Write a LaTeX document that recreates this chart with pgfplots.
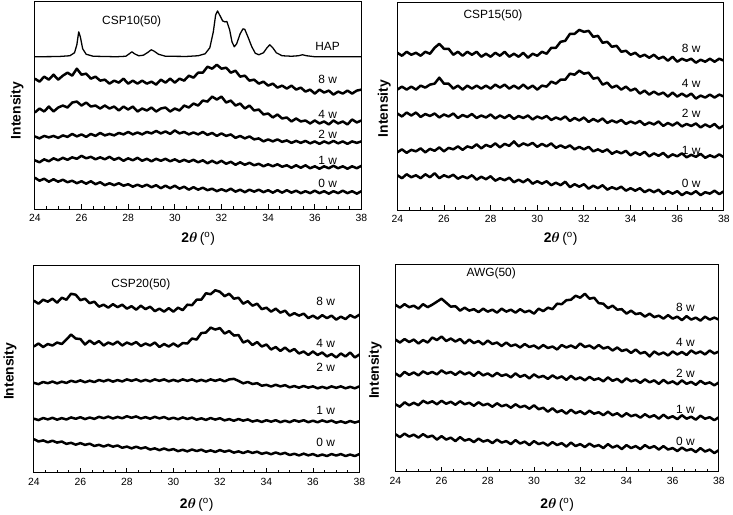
\documentclass[border=0pt]{standalone}
\usepackage{fontspec}
\setmainfont{Liberation Sans}
\usepackage{amsmath,bm}
\usepackage{pgfplots}
\usepackage{pgfplotstable}
\pgfplotsset{compat=1.18}

\newcommand\lab{\fontsize{12}{14}\selectfont}
\newcommand\titlefont{\fontsize{14}{16}\selectfont\bfseries}

% columns: 2theta, 0 w, 1 w, 2 w, 4 w, 8 w (offset intensity, arb. units)
\pgfplotstableread{
x w0 w1 w2 w4 w8
24.0 31.5 49 73 97 131
24.2 28.5 47 71 101 128
24.4 30.5 50 73.5 98 133
24.6 27.5 48 72 103 130
24.8 30 51 73.5 98 135
25.0 27.5 49 71.5 102 130
25.2 29.5 51.5 74 104 134
25.4 27 49.5 72.5 102 137
25.6 28.5 52 75.5 107 134
25.8 26 50.5 73 108 141
26.0 28 53.5 75 104 135
26.2 25.5 51 72.5 107 136
26.4 28 52.5 75.5 103 131
26.6 25 50 73.5 104 133
26.8 27 52 76.5 101 129
27.0 24 50 74 104 130
27.2 26 52.5 75.5 101 126
27.4 24 49.5 74 103 129
27.6 26 51.5 76.5 99 127
27.8 23.5 48.5 75 103 131
28.0 25 51 77.5 100 126
28.2 22.5 49 75 103 129
28.4 24.5 51.5 77 98 126
28.6 22.5 48.5 75 101 129
28.8 24.5 50.5 77.5 99 126
29.0 22 48 76 102 128
29.2 24 50.5 78.5 98 125
29.4 21 48.5 76 101 130
29.6 23.5 50.5 78 102 127
29.8 21 48 75.5 98 131
30.0 23.5 50 79 101 127
30.2 20.5 47.5 76 99 131
30.4 22.5 49.5 77.5 104 129
30.6 19.5 47.5 75 102 134
30.8 22 49.5 77 106 132
31.0 19.5 47 75 104 137
31.2 21.5 49 77.5 109 137
31.4 19 46 74.5 108 143
31.6 20.5 48.5 76.5 113 141
31.8 18 46 73.5 110 145
32.0 20 48.5 76 113 141
32.2 18 45.5 73.5 107 142
32.4 20.5 47.5 75 109 137
32.6 17.5 44.5 71.5 104 139
32.8 19.5 47 73.5 106 133
33.0 17 44.5 71 101 134
33.2 19.5 46.5 73 104 129
33.4 17.5 44 70 99 130
33.6 19.5 45.5 71 100 126
33.8 17 43 68 95 128
34.0 19 45 70 96 124
34.2 16.5 43 68 92 126
34.4 19 45 70 95 122
34.6 16.5 42.5 67.5 91 124
34.8 19 44 69 92 121
35.0 16.5 41.5 66.5 88 124
35.2 18.5 44 68.5 91 120
35.4 16 41.5 66.5 88 122
35.6 18 44 68.5 89 118
35.8 16 41 66 86 120
36.0 18.5 43 68 89 116
36.2 16 40.5 65.5 86 120
36.4 18 43 68 88 117
36.6 15.5 41 66 85 119
36.8 18 43.5 68.5 89 115
37.0 16 41 66 86 118
37.2 18.5 43 68 88 116
37.4 16 40.5 65.5 85 119
37.6 18 43 68 90 116
37.8 15.5 41 66.5 87 119
38.0 18 43.5 68 89 120
}\tabA

\pgfplotstableread{
x w0 w1 w2 w4 w8
24.0 35 58 97 121 158
24.2 32 61 94 124 155
24.4 36 57.5 98 121 159
24.6 33 60.5 95 124 156
24.8 35 59 98 121 158
25.0 32 62 93.5 125 155
25.2 36 58 96.5 123 159
25.4 33 61.5 94.5 126 157
25.6 37 59.5 97 127 163
25.8 32 63 93 133 167
26.0 35 59 96 127 162
26.2 33 62.5 94 127 162
26.4 35.5 61 97 122 156
26.6 31.5 64 92.5 125 159
26.8 34 60.5 95.5 121 155
27.0 32 64 93.5 125 159
27.2 35 62.5 96.5 122 156
27.4 30.5 66 92.5 125 159
27.6 33.5 62 95 122 154
27.8 31 65.5 93 125 157
28.0 34 63.5 96 122 154
28.2 29.5 67 92 126 158
28.4 32 63 95 123 155
28.6 30 66.5 92.5 126 159
28.8 32.5 64.5 95.5 122 154
29.0 28 69 91.5 125 157
29.2 30.5 64 94.5 122 154
29.4 28 67 92.5 126 158
29.6 31 65 95 122 153
29.8 26.5 67.5 91 125 157
30.0 29 63.5 94 121 155
30.2 26.5 66.5 92 125 159
30.4 29 64 94.5 124 157
30.6 25 67 90.5 129 163
30.8 27.5 62.5 93 127 163
31.0 25 65 91 131 169
31.2 28.5 62.5 94 131 170
31.4 23 65 89.5 137 177
31.6 26 61 92.5 136 177
31.8 23.5 63.5 90 140 181
32.0 26 61 93 137 179
32.2 21.5 63.5 88.5 138 180
32.4 24.5 59 91.5 132 174
32.6 22 61 89 133 175
32.8 25 58.5 92 126 168
33.0 20.5 61 87.5 128 169
33.2 23 56.5 90 123 164
33.4 21 59 88 125 165
33.6 23.5 57 90.5 121 159
33.8 19.5 59.5 86.5 124 160
34.0 22 55 89 120 156
34.2 19.5 58 87 122 158
34.4 22 55.5 89.5 117 154
34.6 18 58.5 85.5 120 156
34.8 20.5 54 88 116 153
35.0 18 57 86 119 156
35.2 20.5 54.5 89 116 152
35.4 16 57.5 84.5 118 154
35.6 19 53 87.5 114 150
35.8 16.5 56 85 118 154
36.0 19 54 88 114 149
36.2 15 57 84 117 152
36.4 18 53 86.5 114 150
36.6 16 55.5 84.5 117 152
36.8 19 53.5 87 112 148
37.0 15 56.5 83 115 151
37.2 18 52.5 86 113 149
37.4 16.5 55 83.5 116 152
37.6 19.5 53 86.5 113 149
37.8 16 56 82 116 152
38.0 19 53 85 114 150
}\tabB

\pgfplotstableread{
x w0 w1 w2 w4 w8
24.0 34 54.5 90.5 127 173
24.2 31.6 53.1 89.2 130 170
24.4 32.7 55.2 91.4 126.5 174
24.6 30.8 53.8 90.1 129.5 172
24.8 32.4 55.4 91.8 128 175
25.0 30.5 53.5 90 131 171
25.2 31.6 55.1 91.7 129.5 176
25.4 29.2 53.7 90.4 134 174
25.6 30.3 55.8 92.6 139 180
25.8 28.4 54.4 91.3 135 179
26.0 30 56 93 134.5 173.5
26.2 28.2 54.1 91.1 129 175
26.4 29.4 55.7 92.7 133 170.5
26.6 27.1 54.3 91.3 129.5 172
26.8 28.3 56.4 93.4 132.5 167
27.0 26.5 55 92 128 169
27.2 28.2 56.6 93.6 131 166
27.4 26.4 54.7 91.7 129 169.5
27.6 27.6 56.3 93.3 132 166.5
27.8 25.3 54.9 91.9 128 169
28.0 26.5 57 94 131 165
28.2 24.7 55.4 92.5 129 167.5
28.4 26.4 56.8 94 131.5 164
28.6 24.6 54.7 92 127.5 168
28.8 25.8 56.1 93.5 130 164.5
29.0 23.5 54.5 92 128 167
29.2 24.7 56.4 94 131 162.5
29.4 22.9 54.8 92.5 126.5 165
29.6 24.6 56.2 94 129.5 162
29.8 22.8 54.1 92 127 165.5
30.0 24 55.5 93.5 130 162
30.2 21.9 53.9 92 127 166
30.4 23.3 55.8 94 130.5 163.5
30.6 21.7 54.2 92.5 130 169
30.8 23.6 55.6 94 135 168.5
31.0 22 53.5 92 134 174
31.2 23.4 54.9 93.5 140.5 174
31.4 21.3 53.3 92 141 180.5
31.6 22.7 55.2 94 146 179.5
31.8 21.1 53.6 92.5 144 183.5
32.0 23 55 94 145.5 182
32.2 21.3 52.8 92 140 177.5
32.4 22.6 54.1 94 142.5 180
32.6 20.4 52.4 94.5 138 175
32.8 21.7 54.2 92.5 138.5 176
33.0 20 52.5 90 131 170
33.2 21.8 53.8 91.4 133 172.5
33.4 20.1 51.6 89.3 128.5 168
33.6 21.4 52.9 90.2 131.5 170
33.8 19.2 51.2 87.6 127 164.5
34.0 20.5 53 88.5 129 166
34.2 18.8 51.5 86.8 124 162
34.4 20.6 53 88.6 126.5 165
34.6 18.9 51 86.9 122.5 161
34.8 20.2 52.5 88.2 126 163
35.0 18 51 86 122 158
35.2 19.3 53 87.3 124.5 160.5
35.4 17.6 51.5 85.6 120 158
35.6 19.4 53 87.4 122 160
35.8 17.7 51 85.7 118.5 155.5
36.0 19 52.5 87 122 158
36.2 17 50.9 85 118.5 155
36.4 18.5 52.8 86.5 121 158.5
36.6 17 51.2 85 117 155.5
36.8 19 52.6 87 119.5 158
37.0 17.5 50.5 85.5 116 154
37.2 19 51.9 87 120 157
37.4 17 50.3 85 117 154.5
37.6 18.5 52.2 86.5 121 158.5
37.8 17 50.6 85 116 156
38.0 19 52 87 119 159
}\tabC

\pgfplotstableread{
x w0 w1 w2 w4 w8
24.0 38 68 99 133 168
24.2 35 65.5 96 130 165
24.4 38.5 70 100.5 133.5 168.5
24.6 35.5 67 97.5 130.5 165.5
24.8 37.5 69.5 100 133 167
25.0 34.5 67 97 129 164
25.2 38 71.5 101 132.5 168.5
25.4 35 69 98.5 130 165.5
25.6 36.5 71 100.5 135 168
25.8 32.5 68 98 132.5 171
26.0 36 71.5 102 136 174
26.2 32.5 68.5 99 131.5 170
26.4 34.5 70.5 100.5 134 166
26.6 31 67.5 97.5 131 166.5
26.8 35 71 101 133.5 162
27.0 31.5 68 98 129 165
27.2 33 69.5 100 133 162
27.4 30 66.5 96.5 129.5 163.5
27.6 33.5 70 100.5 131.5 160.5
27.8 30.5 67 97 128 164
28.0 32 68.5 99 132 161
28.2 29 65.5 96 128.5 163
28.4 32.5 69 99.5 130 160
28.6 29.5 66 96.5 126.5 164
28.8 31 67.5 98 130 161
29.0 28 64.5 95 126.5 163
29.2 32 68 99 128 160
29.4 28.5 65 95.5 125 163.5
29.6 30.5 66.5 97.5 128.5 160.5
29.8 27 63.5 94 125.5 162
30.0 31 67 98 127 159
30.2 28 63 95 124 164
30.4 29.5 64.5 96.5 127.5 161.5
30.6 26.5 60.5 93.5 124.5 165
30.8 30 64 97 126 163.5
31.0 27 60 94 123 169
31.2 29 62 96 127.5 168.5
31.4 25.5 58.5 92.5 125 172.5
31.6 29.5 62.5 96.5 127 173
31.8 26 59 93 124.5 177
32.0 28 61 95 129 175
32.2 25 58 92 125.5 179
32.4 28.5 61.5 95.5 127 174
32.6 25.5 58.5 92.5 124 175
32.8 27 60 94 127.5 169.5
33.0 24 57 91 124 169
33.2 28 60.5 95 125.5 164.5
33.4 24.5 57 91.5 122 167
33.6 26.5 59 93.5 125 163
33.8 23 55.5 90 121.5 163.5
34.0 27 59 94 123 159
34.2 24 56 91 119.5 162
34.4 26 57.5 92.5 123 158.5
34.6 23 54.5 89.5 119 159.5
34.8 27 58 93 120.5 156
35.0 24 55 90 116 159
35.2 26 57 92 121 155.5
35.4 22.5 53.5 88.5 118 157
35.6 26 57.5 92.5 120 154
35.8 22.5 54 89 117 157.5
36.0 24 56 91 121 154
36.2 21 53 88 118 156
36.4 24.5 57 92 120.5 152.5
36.6 21.5 53.5 88.5 117.5 156.5
36.8 23 55.5 90.5 122 153
37.0 20 52.5 87.5 119 155
37.2 24 56.5 91.5 121 152
37.4 20.5 53.5 88.5 118 156
37.6 22.5 55 90 122 153
37.8 19 52 87 119 155
38.0 22 55 90 121 153
}\tabD

\pgfplotsset{
  xrd/.style={
    scale only axis, height=208bp,
    xmin=24, xmax=38, ymin=0, ymax=208,
    xtick={24,26,...,38}, minor x tick num=3,
    ytick=\empty, xtick pos=bottom,
    axis line style={line width=1pt},
    major tick length=5bp, minor tick length=3bp,
    tick style={line width=0.9pt,black},
    tick label style={font=\fontsize{10.5}{12}\selectfont},
    /pgf/number format/assume math mode=true,
    xticklabel style={yshift=-2bp},
    cycle list={{black}}, no marks,
    every axis plot/.append style={line width=2.5pt, line join=round},
  },
}

\newcommand\traces[1]{%
  \pgfplotsinvokeforeach{w0,w1,w2,w4,w8}{\addplot table[x=x,y=##1]{#1};}}

\begin{document}
\begin{tikzpicture}
\path (0,0) rectangle (733bp,516bp);

% CSP10(50)
\begin{axis}[xrd, name=pa, width=328bp, at={(35bp,306bp)}, anchor=south west]
\traces{\tabA}
\addplot[line width=1.3pt] coordinates {
(24.0,153) (25.0,153.2) (25.5,154) (25.7,157) (25.8,165) (25.88,178) (25.95,173)
(26.05,161) (26.2,155.5) (26.5,153.5) (27.5,153) (27.9,153.5) (28.05,156) (28.16,158)
(28.27,156) (28.45,154) (28.65,154.5) (28.85,157.5) (28.99,160) (29.12,158.5) (29.3,155.5)
(29.6,153.5) (30.5,153.3) (31.0,154) (31.3,156) (31.5,162) (31.65,178) (31.75,195)
(31.83,199) (31.92,195) (32.05,189) (32.15,188) (32.23,188.5) (32.35,180) (32.45,168)
(32.55,163) (32.65,166) (32.8,176) (32.92,181) (33.0,180.5) (33.15,172) (33.3,163)
(33.45,156.5) (33.6,155) (33.8,157) (33.95,162) (34.07,165) (34.2,162) (34.35,157)
(34.6,154) (35.0,153.5) (35.3,154) (35.47,155) (35.65,154) (36.0,153) (38.0,153)
};
\node[font=\lab] at (axis cs:28.15,188) {CSP10(50)};
\node[font=\lab] at (axis cs:36.55,163) {HAP};
\node[font=\lab] at (axis cs:36.55,130) {8 w};
\node[font=\lab] at (axis cs:36.55,95) {4 w};
\node[font=\lab] at (axis cs:36.55,75) {2 w};
\node[font=\lab] at (axis cs:36.55,49) {1 w};
\node[font=\lab] at (axis cs:36.55,26) {0 w};
\end{axis}

% CSP15(50)
\begin{axis}[xrd, name=pb, width=328bp, at={(399bp,305bp)}, anchor=south west]
\traces{\tabB}
\node[font=\lab] at (axis cs:28.1,196) {CSP15(50)};
\node[font=\lab] at (axis cs:36.6,162) {8 w};
\node[font=\lab] at (axis cs:36.6,127) {4 w};
\node[font=\lab] at (axis cs:36.6,97) {2 w};
\node[font=\lab] at (axis cs:36.6,60) {1 w};
\node[font=\lab] at (axis cs:36.6,27) {0 w};
\end{axis}

% CSP20(50)
\begin{axis}[xrd, name=pc, width=327bp, at={(34bp,41bp)}, anchor=south west]
\traces{\tabC}
\node[font=\lab] at (axis cs:28.6,189) {CSP20(50)};
\node[font=\lab] at (axis cs:36.55,172) {8 w};
\node[font=\lab] at (axis cs:36.55,130) {4 w};
\node[font=\lab] at (axis cs:36.55,106) {2 w};
\node[font=\lab] at (axis cs:36.55,63) {1 w};
\node[font=\lab] at (axis cs:36.55,31) {0 w};
\end{axis}

% AWG(50)
\begin{axis}[xrd, name=pd, width=325bp, at={(397bp,42bp)}, anchor=south west]
\traces{\tabD}
\node[font=\lab] at (axis cs:28.15,199) {AWG(50)};
\node[font=\lab] at (axis cs:36.55,165) {8 w};
\node[font=\lab] at (axis cs:36.55,130) {4 w};
\node[font=\lab] at (axis cs:36.55,99) {2 w};
\node[font=\lab] at (axis cs:36.55,63) {1 w};
\node[font=\lab] at (axis cs:36.55,31) {0 w};
\end{axis}

% axis titles
\foreach \p/\dx/\dy in {pa/-18/-5, pb/-13/-2, pc/-24/-2, pd/-20/-2}
  \node[rotate=90, font=\titlefont] at ([xshift=\dx bp, yshift=\dy bp]\p.west) {Intensity};
\foreach \p/\dy in {pa/-30, pb/-29, pc/-32, pd/-33}
  \node[font=\titlefont] at ([yshift=\dy bp]\p.south) {2$\boldsymbol{\theta}$\,{\mdseries(\textsuperscript{o})}};
\end{tikzpicture}
\end{document}
